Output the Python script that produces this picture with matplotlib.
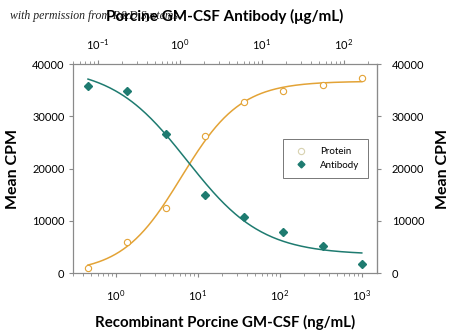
import numpy as np
import matplotlib
matplotlib.use("Agg")
import matplotlib.pyplot as plt
from matplotlib.lines import Line2D

plt.rcParams['font.family'] = ['Lato', 'DejaVu Sans']
plt.rcParams['mathtext.fontset'] = 'custom'
plt.rcParams['mathtext.rm'] = 'Lato'

# data
protein_conc = [0.457, 1.37, 4.12, 12.3, 37.0, 111, 333, 1000]      # ng/mL
protein_cpm = [1000, 6000, 12400, 26200, 32800, 34900, 35900, 37300]
antibody_conc = [0.076, 0.228, 0.683, 2.05, 6.15, 18.4, 55.3, 166]  # ug/mL
antibody_cpm = [35700, 34800, 26600, 14900, 10700, 7900, 5100, 1800]

# 4PL fit parameters estimated from the drawn curves
protein_fit = dict(bottom=0, top=36700, ec50=6.3, hill=1.2)
antibody_fit = dict(bottom=3500, top=39500, ec50=1.23, hill=-0.95)

orange = '#E3A336'
teal = '#1E7B70'
grey = '#8a8a8a'


def four_pl(x, bottom, top, ec50, hill):
    return bottom + (top - bottom) / (1 + (ec50 / x) ** hill)


fig = plt.figure(figsize=(4.5, 3.36), dpi=100)
ax = fig.add_axes([0.162, 0.1875, 0.675, 0.622])

xb = np.logspace(np.log10(protein_conc[0]), np.log10(protein_conc[-1]), 200)
ax.plot(xb, four_pl(xb, **protein_fit), color=orange, lw=1.1)
ax.plot(protein_conc, protein_cpm, 'o', mfc='white', mec=orange, ms=4.5, mew=0.8)
ax.set_xscale('log')
ax.set_xlim(0.30, 1520)
ax.set_ylim(0, 40000)
ax.set_yticks([0, 10000, 20000, 30000, 40000])
ax.set_xlabel('Recombinant Porcine GM-CSF (ng/mL)', fontsize=10.8,
              fontweight='bold', labelpad=9)
ax.set_ylabel('Mean CPM', fontsize=11.5, fontweight='bold', labelpad=9)

top = ax.twiny()
top.set_xscale('log')
top.set_xlim(0.30 / 6.03, 1520 / 6.03)
xt = np.logspace(np.log10(antibody_conc[0]), np.log10(antibody_conc[-1]), 200)
top.plot(xt, four_pl(xt, **antibody_fit), color=teal, lw=1.1)
top.plot(antibody_conc, antibody_cpm, 'D', color=teal, ms=4)
top.set_ylim(0, 40000)

right = ax.secondary_yaxis('right')
right.set_yticks([0, 10000, 20000, 30000, 40000])
right.set_ylabel('Mean CPM', fontsize=11.5, fontweight='bold', labelpad=8)

for a in (ax, top):
    for s in a.spines.values():
        s.set_color(grey)
        s.set_linewidth(0.8)
for s in right.spines.values():
    s.set_color(grey)
    s.set_linewidth(0.8)

ax.tick_params(axis='both', which='major', labelsize=8, length=3, color=grey, pad=3)
ax.tick_params(axis='x', which='major', pad=8)
ax.tick_params(axis='x', which='minor', length=2, color=grey)
top.tick_params(axis='x', which='major', labelsize=8, length=3, color=grey, pad=6)
top.tick_params(axis='x', which='minor', length=2, color=grey)
right.tick_params(axis='y', labelsize=8, length=3, color=grey, pad=8)

handles = [Line2D([], [], ls='none', marker='o', mfc='white', mec='#d8d2b0', ms=4.5, mew=0.8),
           Line2D([], [], ls='none', marker='D', color=teal, ms=3.5)]
leg = top.legend(handles, ['Protein', 'Antibody'], loc='upper left',
                 bbox_to_anchor=(0.675, 0.665), fontsize=7, frameon=True,
                 fancybox=False, edgecolor='#555555', handletextpad=1.0,
                 borderpad=0.85, labelspacing=0.45)
leg.get_frame().set_linewidth(0.7)

fig.text(0.022, 0.942, 'with permission from R&D Systems', fontsize=8.5,
         family='Liberation Serif', style='italic', color='#222222')
fig.text(0.5, 0.952, 'Porcine GM-CSF Antibody (\u03bcg/mL)', fontsize=11,
         fontweight='bold', ha='center', va='center')

fig.savefig('out.png', dpi=100)
